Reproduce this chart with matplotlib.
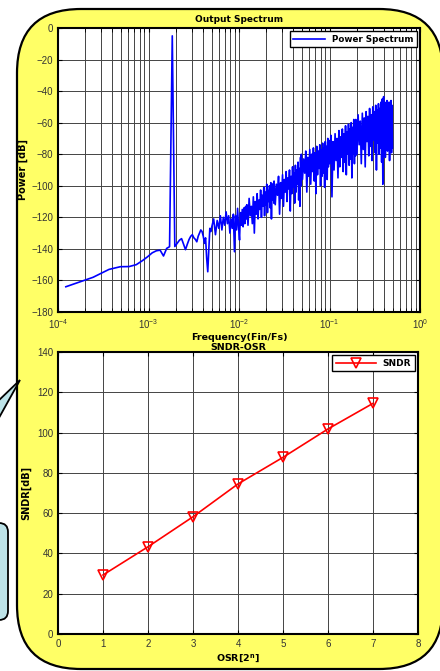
import numpy as np
import matplotlib.pyplot as plt
from matplotlib.patches import FancyBboxPatch, Polygon

# Output spectrum: FFT bins (N = 8192) and power [dB]
n_fft = 8192
bins = np.r_[1:41, 41:100:2, 100:200:3, 200:400:6, 400:800:12,
             800:1600:24, 1600:3200:48, 3200:4097:48]
power_db = [
    # bins 1..40
    -164, -158, -153, -151.3, -151.2, -150, -147.5, -145, -142.5, -141.2,
    -140.8, -144.5, -139.7, -138.6, -5, -138.5, -136.5, -134.5, -133.5, -137,
    -140.5, -137, -134, -132, -131, -133, -134, -135.5, -132, -130,
    -128, -129, -132, -136.5, -133, -146, -154.5, -140, -127, -129,
    # bins 41..99
    -126, -121, -131, -122, -127, -119, -128, -120, -125, -116.5,
    -124, -119, -130, -121, -127, -118, -141.8, -119, -128, -114.3,
    -126, -134.4, -117, -125, -115, -126, -114, -124, -113, -121,
    # bins 100..199
    -112, -125, -108, -119, -113, -124, -107, -130, -110, -118,
    -105, -121, -109, -115, -102.7, -120, -106, -113, -101, -119,
    -104, -112, -99, -117, -103, -110, -100, -114, -98, -121,
    -102, -109, -98.5, -111,
    # bins 200..398
    -97, -112, -99, -106, -94, -118, -98, -108, -93, -113,
    -96, -104, -91, -110, -95, -102, -90, -116, -94, -105,
    -88, -101, -92, -111, -87, -104, -90, -99, -85, -109,
    -89, -113, -82, -100,
    # bins 400..796
    -80, -96, -83, -92, -78, -104, -82, -94, -77, -99,
    -80, -91, -76, -97, -79, -105, -75, -93, -78, -89,
    -74, -100, -77, -94, -73, -92, -76, -101, -72, -90,
    -75, -96, -70, -88,
    # bins 800..1592
    -71, -86, -68, -107, -72, -90, -67, -84, -70, -95,
    -65, -88, -69, -82, -64, -91, -67, -85, -62, -93,
    -66, -80, -61, -87, -64, -83, -60, -95, -63, -79,
    -58, -86, -60, -81,
    # bins 1600..3184
    -58, -80, -55, -74, -59, -86, -54, -77, -57, -88,
    -53, -72, -56, -81, -51, -75, -55, -84, -50, -71,
    -53, -79, -49, -90, -52, -73, -48, -80, -51, -76,
    -47, -85, -45, -99,
    # bins 3200..4064
    -48, -43.5, -75, -47, -82, -50, -72, -46, -78, -49,
    -70, -47, -84, -48, -74, -46, -79, -49, -76,
]
freq = bins / n_fft

# SNDR vs OSR
osr_exp = [1, 2, 3, 4, 5, 6, 7]
sndr_db = [29.3, 43.3, 58.2, 74.5, 87.7, 101.8, 114.5]

W, H = 440, 671
fig = plt.figure(figsize=(W / 100, H / 100), dpi=100)

# background: callout + yellow rounded panel, in pixel units
bg = fig.add_axes([0, 0, 1, 1])
bg.set_xlim(0, W)
bg.set_ylim(H, 0)
bg.axis('off')
bg.add_patch(FancyBboxPatch((-30, 523), 38, 97, boxstyle="round,pad=0,rounding_size=9",
                            facecolor='#BDE3E8', edgecolor='black', lw=1.3))
bg.add_patch(FancyBboxPatch((17, 9), 426, 660, boxstyle="round,pad=0,rounding_size=64",
                            facecolor='#FFFF66', edgecolor='black', lw=1.6))
bg.add_patch(Polygon([(-5, 404), (20, 380), (-5, 425)], closed=False,
                     facecolor='#BDE3E8', edgecolor='black', lw=1.3))

tick_kw = dict(direction='in', labelsize=7, labelcolor='#333333', top=True, right=True)
grid_kw = dict(color='#444444', lw=0.7)
bold = dict(fontweight='bold', family='DejaVu Sans')

# --- Output spectrum ---
ax1 = fig.add_axes([58 / W, 1 - 312 / H, 362 / W, 284 / H])
ax1.semilogx(freq, power_db, color='#0000FF', lw=1.2, label='Power Spectrum')
ax1.set_xlim(1e-4, 1)
ax1.set_ylim(-180, 0)
ax1.set_yticks(np.arange(-180, 1, 20))
ax1.grid(True, which='both', axis='x', **grid_kw)
ax1.grid(True, which='major', axis='y', **grid_kw)
ax1.tick_params(which='both', length=3, **tick_kw)
ax1.set_title('Output Spectrum', fontsize=6.5, pad=4, **bold)
ax1.set_xlabel('Frequency(Fin/Fs)', fontsize=6.8, labelpad=2, **bold)
ax1.set_ylabel('Power [dB]', fontsize=7, labelpad=2, **bold)
leg1 = ax1.legend(loc='upper right', fancybox=False, edgecolor='black',
                  framealpha=1, borderaxespad=0.35, handlelength=3.6,
                  prop={'weight': 'bold', 'size': 6.3})
leg1.get_frame().set_linewidth(1.0)

# --- SNDR vs OSR ---
ax2 = fig.add_axes([58 / W, 1 - 634 / H, 360 / W, 282 / H])
ax2.plot(osr_exp, sndr_db, color='#FF0000', lw=1.2, marker='v', ms=7,
         mfc='none', mec='#FF0000', mew=1.2, label='SNDR')
ax2.set_xlim(0, 8)
ax2.set_ylim(0, 140)
ax2.set_xticks(range(0, 9))
ax2.set_yticks(np.arange(0, 141, 20))
ax2.grid(True, **grid_kw)
ax2.tick_params(length=3, **tick_kw)
ax2.set_title('SNDR-OSR', fontsize=6.8, pad=1.5, **bold)
ax2.set_xlabel(r'OSR[2$^{\mathbf{n}}$]', fontsize=6.8, labelpad=3, **bold)
ax2.set_ylabel('SNDR[dB]', fontsize=7, labelpad=4, **bold)
leg2 = ax2.legend(loc='upper right', fancybox=False, edgecolor='black', framealpha=1,
                  borderaxespad=0.35, handlelength=4.4, prop={'weight': 'bold', 'size': 6.5})
leg2.get_frame().set_linewidth(1.0)

for ax in (ax1, ax2):
    for s in ax.spines.values():
        s.set_linewidth(1.5)
    for lbl in ax.get_xticklabels() + ax.get_yticklabels():
        lbl.set_family('Liberation Sans')

fig.savefig('out.png', dpi=100)
